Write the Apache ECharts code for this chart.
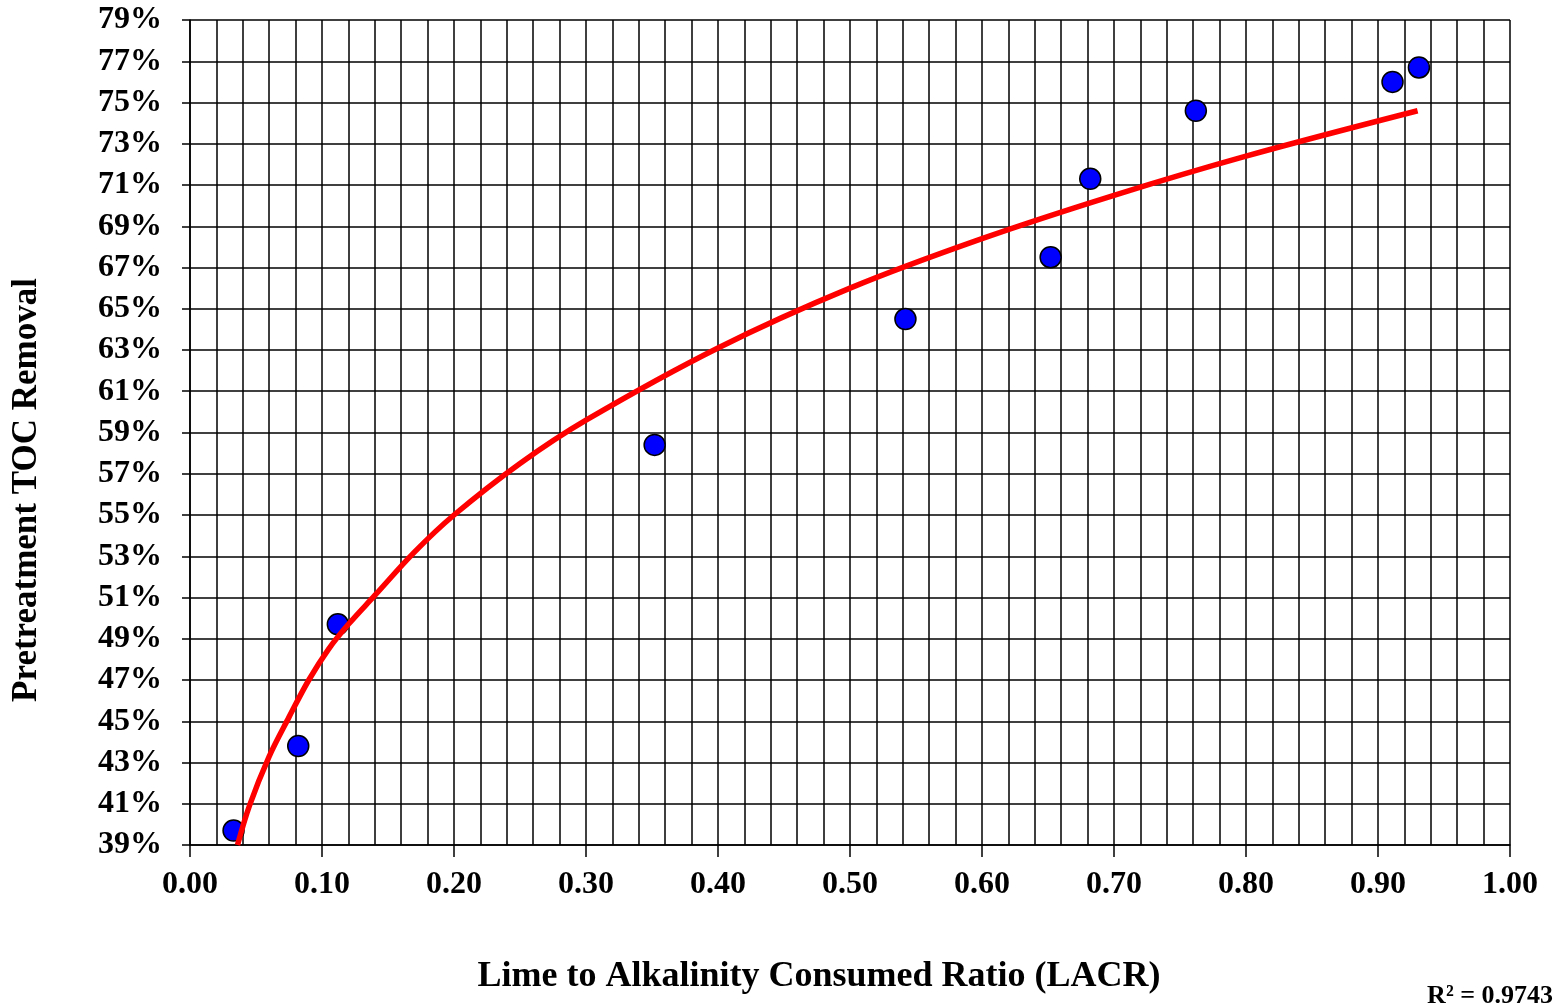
<!DOCTYPE html>
<html lang="en">

<head>
    <meta charset="UTF-8">
    <title>Pretreatment TOC Removal vs LACR</title>
    <style>
        html, body { margin: 0; padding: 0; background: #fff; }
        #chart { width: 1567px; height: 1007px; }
    </style>
</head>

<body>
    <div id="chart"></div>
    <script src="https://cdn.jsdelivr.net/npm/echarts@6/dist/echarts.min.js"></script>
    <script>
        // measured points (LACR, % TOC removal)
        var lacr = [0.033, 0.082, 0.112, 0.352, 0.542, 0.652, 0.682, 0.762, 0.911, 0.931];
        var tocRemoval = [39.7, 43.8, 49.7, 58.4, 64.5, 67.5, 71.3, 74.6, 76.0, 76.7];

        // trend line
        var trendX = [0.036, 0.045, 0.06, 0.075, 0.09, 0.105, 0.12, 0.14, 0.17, 0.20, 0.25, 0.30, 0.40, 0.50, 0.60, 0.70, 0.80, 0.93];
        var trendY = [39.0, 40.9, 43.3, 45.2, 47.0, 48.5, 49.7, 51.1, 53.2, 55.0, 57.5, 59.6, 63.1, 66.0, 68.4, 70.5, 72.4, 74.6];

        // y tick labels (every 2%)
        var yTicks = [39, 41, 43, 45, 47, 49, 51, 53, 55, 57, 59, 61, 63, 65, 67, 69, 71, 73, 75, 77, 79];
        var rSquared = '0.9743';

        var font = 'Liberation Serif';
        var points = lacr.map(function (x, i) { return [x, tocRemoval[i]]; });
        var trend = trendX.map(function (x, i) { return [x, trendY[i]]; });

        var chart = echarts.init(document.getElementById('chart'));
        chart.setOption({
            animation: false,
            backgroundColor: '#fff',
            grid: { left: 190, right: 57, top: 20, bottom: 162 },
            xAxis: {
                type: 'value',
                min: 0, max: 1, interval: 0.1,
                axisLine: { show: true, lineStyle: { color: '#000', width: 1.5 } },
                axisTick: { show: true, length: 12, lineStyle: { color: '#000', width: 1.5 } },
                axisLabel: {
                    margin: 24,
                    color: '#000', fontFamily: font, fontWeight: 'bold', fontSize: 32,
                    formatter: function (v) { return v.toFixed(2); }
                },
                splitLine: { show: true, lineStyle: { color: '#000', width: 1.5 } },
                minorTick: { show: false, splitNumber: 5 },
                minorSplitLine: { show: true, lineStyle: { color: '#000', width: 1.5 } }
            },
            yAxis: {
                type: 'value',
                min: 39, max: 79, interval: 1,
                axisLine: { show: true, lineStyle: { color: '#000', width: 1.5 } },
                axisTick: { show: true, length: 8, customValues: yTicks, lineStyle: { color: '#000', width: 1.5 } },
                axisLabel: {
                    margin: 28, customValues: yTicks,
                    color: '#000', fontFamily: font, fontWeight: 'bold', fontSize: 32,
                    formatter: '{value}%'
                },
                splitLine: { show: true, lineStyle: { color: '#000', width: 1.5 } }
            },
            series: [
                {
                    type: 'scatter',
                    data: points,
                    symbol: 'circle',
                    symbolSize: 21,
                    itemStyle: { color: '#0000FF', borderColor: '#000', borderWidth: 1.5, opacity: 1 },
                    z: 3
                },
                {
                    type: 'line',
                    data: trend,
                    showSymbol: false,
                    smooth: 0.35,
                    clip: true,
                    lineStyle: { color: '#FF0000', width: 5.5 },
                    z: 4
                }
            ],
            graphic: [
                {
                    type: 'text',
                    x: 27, y: 490,
                    rotation: Math.PI / 2,
                    style: {
                        text: 'Pretreatment TOC Removal',
                        fill: '#000', font: 'bold 35px "' + font + '"',
                        align: 'center', verticalAlign: 'middle'
                    }
                },
                {
                    type: 'text',
                    x: 819, y: 977,
                    style: {
                        text: 'Lime to Alkalinity Consumed Ratio (LACR)',
                        fill: '#000', font: 'bold 36px "' + font + '"',
                        align: 'center', verticalAlign: 'middle'
                    }
                },
                {
                    type: 'text',
                    x: 1553, y: 996,
                    style: {
                        text: 'R² = ' + rSquared,
                        fill: '#000', font: 'bold 26px "' + font + '"',
                        align: 'right', verticalAlign: 'middle'
                    }
                }
            ]
        });
    </script>
</body>

</html>
